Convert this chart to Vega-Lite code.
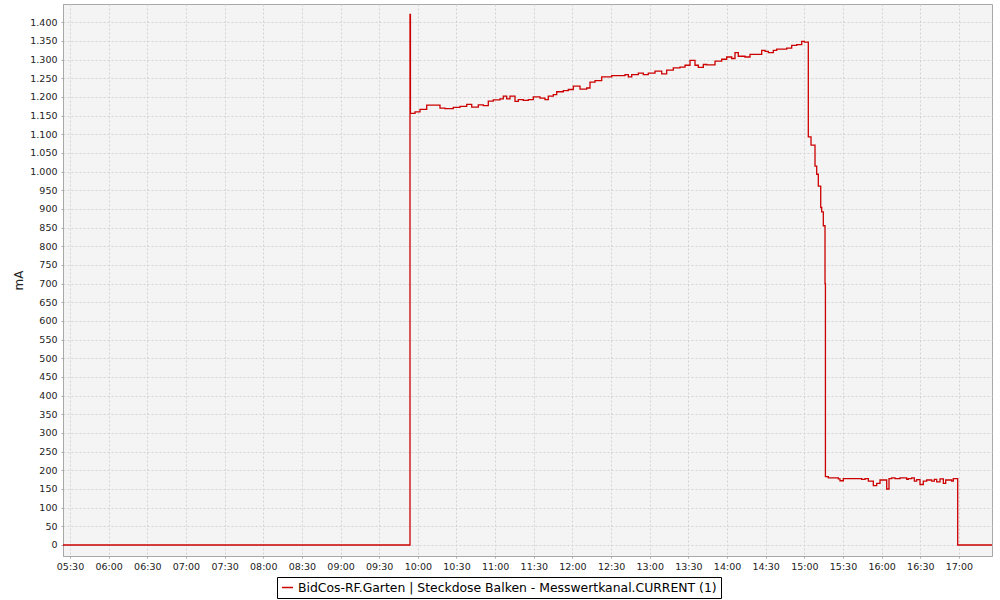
{
  "$schema": "https://vega.github.io/schema/vega-lite/v6.json",
  "width": 929,
  "height": 552,
  "autosize": "none",
  "padding": {"left": 63, "top": 4, "right": 8, "bottom": 44},
  "background": "white",
  "data": {"values": [
    {"t": "2024-05-01T05:24:34", "v": 0},
    {"t": "2024-05-01T09:53:55", "v": 1421},
    {"t": "2024-05-01T09:54:15", "v": 1156},
    {"t": "2024-05-01T09:57:48", "v": 1160},
    {"t": "2024-05-01T10:01:41", "v": 1167},
    {"t": "2024-05-01T10:06:53", "v": 1178},
    {"t": "2024-05-01T10:17:12", "v": 1170},
    {"t": "2024-05-01T10:21:05", "v": 1169},
    {"t": "2024-05-01T10:27:31", "v": 1172},
    {"t": "2024-05-01T10:32:44", "v": 1175},
    {"t": "2024-05-01T10:37:56", "v": 1180},
    {"t": "2024-05-01T10:41:49", "v": 1173},
    {"t": "2024-05-01T10:46:56", "v": 1179},
    {"t": "2024-05-01T10:50:49", "v": 1177},
    {"t": "2024-05-01T10:54:41", "v": 1189},
    {"t": "2024-05-01T10:58:34", "v": 1192},
    {"t": "2024-05-01T11:03:46", "v": 1195},
    {"t": "2024-05-01T11:06:20", "v": 1202},
    {"t": "2024-05-01T11:08:59", "v": 1195},
    {"t": "2024-05-01T11:11:32", "v": 1202},
    {"t": "2024-05-01T11:15:25", "v": 1188},
    {"t": "2024-05-01T11:17:59", "v": 1193},
    {"t": "2024-05-01T11:21:52", "v": 1191},
    {"t": "2024-05-01T11:25:44", "v": 1193},
    {"t": "2024-05-01T11:29:37", "v": 1200},
    {"t": "2024-05-01T11:34:49", "v": 1197},
    {"t": "2024-05-01T11:38:42", "v": 1193},
    {"t": "2024-05-01T11:41:16", "v": 1202},
    {"t": "2024-05-01T11:45:09", "v": 1206},
    {"t": "2024-05-01T11:47:47", "v": 1214},
    {"t": "2024-05-01T11:52:55", "v": 1217},
    {"t": "2024-05-01T11:56:47", "v": 1220},
    {"t": "2024-05-01T12:00:40", "v": 1229},
    {"t": "2024-05-01T12:05:52", "v": 1221},
    {"t": "2024-05-01T12:11:04", "v": 1224},
    {"t": "2024-05-01T12:13:38", "v": 1240},
    {"t": "2024-05-01T12:17:31", "v": 1244},
    {"t": "2024-05-01T12:22:43", "v": 1254},
    {"t": "2024-05-01T12:30:29", "v": 1257},
    {"t": "2024-05-01T12:40:48", "v": 1260},
    {"t": "2024-05-01T12:43:23", "v": 1254},
    {"t": "2024-05-01T12:46:00", "v": 1260},
    {"t": "2024-05-01T12:51:08", "v": 1264},
    {"t": "2024-05-01T12:55:01", "v": 1260},
    {"t": "2024-05-01T12:58:53", "v": 1264},
    {"t": "2024-05-01T13:04:05", "v": 1269},
    {"t": "2024-05-01T13:09:17", "v": 1262},
    {"t": "2024-05-01T13:13:10", "v": 1272},
    {"t": "2024-05-01T13:18:17", "v": 1278},
    {"t": "2024-05-01T13:23:29", "v": 1280},
    {"t": "2024-05-01T13:27:23", "v": 1285},
    {"t": "2024-05-01T13:31:16", "v": 1298},
    {"t": "2024-05-01T13:35:08", "v": 1285},
    {"t": "2024-05-01T13:37:42", "v": 1279},
    {"t": "2024-05-01T13:41:35", "v": 1287},
    {"t": "2024-05-01T13:44:13", "v": 1286},
    {"t": "2024-05-01T13:50:40", "v": 1296},
    {"t": "2024-05-01T13:55:52", "v": 1301},
    {"t": "2024-05-01T13:59:44", "v": 1307},
    {"t": "2024-05-01T14:03:37", "v": 1303},
    {"t": "2024-05-01T14:06:11", "v": 1319},
    {"t": "2024-05-01T14:08:45", "v": 1309},
    {"t": "2024-05-01T14:13:57", "v": 1307},
    {"t": "2024-05-01T14:17:50", "v": 1314},
    {"t": "2024-05-01T14:26:55", "v": 1325},
    {"t": "2024-05-01T14:29:28", "v": 1322},
    {"t": "2024-05-01T14:32:02", "v": 1319},
    {"t": "2024-05-01T14:35:55", "v": 1325},
    {"t": "2024-05-01T14:38:33", "v": 1328},
    {"t": "2024-05-01T14:46:19", "v": 1331},
    {"t": "2024-05-01T14:50:12", "v": 1338},
    {"t": "2024-05-01T14:54:05", "v": 1340},
    {"t": "2024-05-01T14:57:58", "v": 1349},
    {"t": "2024-05-01T14:59:59", "v": 1347},
    {"t": "2024-05-01T15:03:05", "v": 1093},
    {"t": "2024-05-01T15:05:11", "v": 1071},
    {"t": "2024-05-01T15:08:17", "v": 1015},
    {"t": "2024-05-01T15:09:36", "v": 993},
    {"t": "2024-05-01T15:10:51", "v": 961},
    {"t": "2024-05-01T15:12:43", "v": 904},
    {"t": "2024-05-01T15:13:29", "v": 892},
    {"t": "2024-05-01T15:14:44", "v": 855},
    {"t": "2024-05-01T15:16:03", "v": 700},
    {"t": "2024-05-01T15:16:22", "v": 183},
    {"t": "2024-05-01T15:18:37", "v": 180},
    {"t": "2024-05-01T15:26:22", "v": 177},
    {"t": "2024-05-01T15:27:41", "v": 172},
    {"t": "2024-05-01T15:30:15", "v": 178},
    {"t": "2024-05-01T15:44:32", "v": 176},
    {"t": "2024-05-01T15:47:06", "v": 178},
    {"t": "2024-05-01T15:49:40", "v": 171},
    {"t": "2024-05-01T15:53:32", "v": 159},
    {"t": "2024-05-01T15:56:11", "v": 165},
    {"t": "2024-05-01T15:58:44", "v": 174},
    {"t": "2024-05-01T16:03:56", "v": 150},
    {"t": "2024-05-01T16:05:43", "v": 178},
    {"t": "2024-05-01T16:07:49", "v": 180},
    {"t": "2024-05-01T16:10:23", "v": 178},
    {"t": "2024-05-01T16:14:16", "v": 180},
    {"t": "2024-05-01T16:19:28", "v": 176},
    {"t": "2024-05-01T16:20:43", "v": 178},
    {"t": "2024-05-01T16:23:21", "v": 180},
    {"t": "2024-05-01T16:25:22", "v": 171},
    {"t": "2024-05-01T16:27:13", "v": 175},
    {"t": "2024-05-01T16:29:47", "v": 162},
    {"t": "2024-05-01T16:32:21", "v": 171},
    {"t": "2024-05-01T16:34:59", "v": 174},
    {"t": "2024-05-01T16:38:52", "v": 171},
    {"t": "2024-05-01T16:40:53", "v": 176},
    {"t": "2024-05-01T16:42:45", "v": 169},
    {"t": "2024-05-01T16:45:19", "v": 177},
    {"t": "2024-05-01T16:47:53", "v": 165},
    {"t": "2024-05-01T16:49:44", "v": 174},
    {"t": "2024-05-01T16:54:23", "v": 171},
    {"t": "2024-05-01T16:55:38", "v": 178},
    {"t": "2024-05-01T16:59:03", "v": 0},
    {"t": "2024-05-01T17:25:40", "v": 0}
  ]},
  "mark": {"type": "line", "interpolate": "step-after", "strokeWidth": 1.3},
  "encoding": {
    "x": {
      "field": "t",
      "type": "temporal",
      "title": null,
      "scale": {"nice": false},
      "axis": {
        "format": "%H:%M",
        "labelPadding": 3,
        "labelOverlap": false
      }
    },
    "y": {
      "field": "v",
      "type": "quantitative",
      "title": "mA",
      "scale": {"domain": [-29.5, 1449], "nice": false, "zero": false},
      "axis": {
        "values": [0, 50, 100, 150, 200, 250, 300, 350, 400, 450, 500, 550, 600, 650, 700, 750, 800, 850, 900, 950, 1000, 1050, 1100, 1150, 1200, 1250, 1300, 1350, 1400],
        "labelExpr": "replace(datum.label, ',', '.')",
        "labelPadding": 4,
        "titleFontSize": 12,
        "titleFontWeight": "normal"
      }
    },
    "color": {
      "datum": "BidCos-RF.Garten | Steckdose Balken - Messwertkanal.CURRENT (1)",
      "type": "nominal",
      "scale": {"range": ["#cc0000"]},
      "legend": {
        "title": null,
        "orient": "none",
        "legendX": 214,
        "legendY": 573,
        "strokeColor": "#000000",
        "padding": 4,
        "symbolType": "stroke",
        "symbolSize": 120,
        "symbolStrokeWidth": 1.5,
        "labelFontSize": 12.4,
        "labelFont": "DejaVu Sans",
        "labelColor": "#000000",
        "labelLimit": 600,
        "labelOffset": 4
      }
    }
  },
  "config": {
    "view": {"fill": "#f4f4f4", "stroke": "#a8a8a8", "strokeWidth": 1},
    "font": "DejaVu Sans",
    "axis": {
      "labelFont": "DejaVu Sans",
      "labelFontSize": 9.5,
      "labelColor": "#222222",
      "titleFont": "DejaVu Sans",
      "titleColor": "#222222",
      "domainColor": "#a8a8a8",
      "tickColor": "#a8a8a8",
      "tickSize": 2,
      "gridColor": "#d4d4d4",
      "gridDash": [2, 2],
      "gridWidth": 1
    }
  }
}
